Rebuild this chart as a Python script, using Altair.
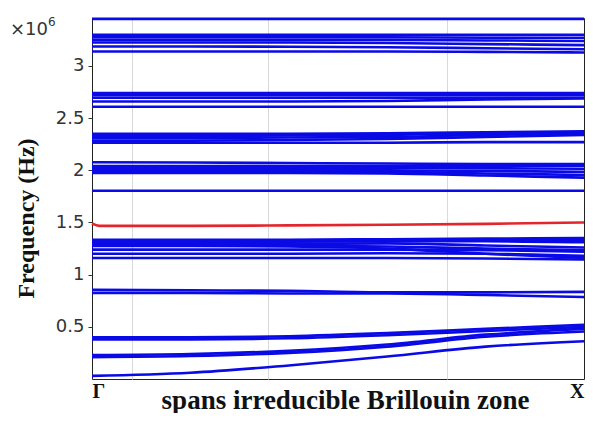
import altair as alt
import pandas as pd

# wave-vector sample positions (Gamma = 0, X = 1)
K = [0.0, 0.2, 0.4, 0.6, 0.8, 1.0]

# blue bands, frequency in units of 1e6 Hz, read at the K positions
band_vals = [
    [0.03, 0.06, 0.13, 0.215, 0.31, 0.362],
    [0.21, 0.22, 0.25, 0.31, 0.405, 0.455],
    [0.23, 0.24, 0.27, 0.33, 0.425, 0.48],
    [0.38, 0.38, 0.39, 0.42, 0.46, 0.50],
    [0.40, 0.40, 0.41, 0.44, 0.48, 0.52],
    [0.825, 0.825, 0.82, 0.82, 0.805, 0.785],
    [0.855, 0.85, 0.845, 0.83, 0.83, 0.835],
    [1.16, 1.16, 1.16, 1.16, 1.155, 1.145],
    [1.20, 1.20, 1.20, 1.205, 1.20, 1.18],
    [1.24, 1.24, 1.24, 1.24, 1.235, 1.22],
    [1.275, 1.275, 1.27, 1.25, 1.20, 1.16],
    [1.285, 1.285, 1.28, 1.27, 1.25, 1.235],
    [1.295, 1.295, 1.295, 1.30, 1.28, 1.26],
    [1.315, 1.315, 1.315, 1.32, 1.32, 1.31],
    [1.325, 1.325, 1.325, 1.33, 1.335, 1.33],
    [1.335, 1.335, 1.335, 1.34, 1.345, 1.35],
    [1.805, 1.805, 1.805, 1.805, 1.805, 1.805],
    [1.975, 1.975, 1.975, 1.97, 1.95, 1.93],
    [1.99, 1.99, 1.99, 1.985, 1.97, 1.955],
    [2.005, 2.005, 2.005, 2.0, 1.995, 1.985],
    [2.025, 2.025, 2.025, 2.025, 2.02, 2.015],
    [2.04, 2.04, 2.04, 2.04, 2.04, 2.045],
    [2.078, 2.075, 2.07, 2.065, 2.06, 2.06],
    [2.265, 2.265, 2.265, 2.265, 2.27, 2.27],
    [2.285, 2.285, 2.29, 2.30, 2.32, 2.34],
    [2.31, 2.31, 2.315, 2.32, 2.34, 2.355],
    [2.33, 2.33, 2.335, 2.34, 2.355, 2.365],
    [2.35, 2.35, 2.35, 2.355, 2.365, 2.375],
    [2.61, 2.61, 2.61, 2.61, 2.61, 2.61],
    [2.66, 2.66, 2.66, 2.665, 2.68, 2.69],
    [2.695, 2.695, 2.695, 2.695, 2.695, 2.695],
    [2.72, 2.72, 2.72, 2.72, 2.72, 2.72],
    [2.74, 2.74, 2.74, 2.74, 2.74, 2.74],
    [3.139, 3.139, 3.139, 3.139, 3.135, 3.13],
    [3.187, 3.187, 3.185, 3.18, 3.17, 3.16],
    [3.225, 3.225, 3.225, 3.22, 3.21, 3.20],
    [3.25, 3.25, 3.25, 3.25, 3.245, 3.24],
    [3.275, 3.275, 3.275, 3.275, 3.27, 3.27],
    [3.298, 3.298, 3.298, 3.298, 3.298, 3.30],
    [3.452, 3.452, 3.452, 3.452, 3.452, 3.452],
]
band_names = [f"b{i:02d}" for i in range(1, len(band_vals) + 1)]

# red (highlighted) band
red_k = [0.0, 0.015, 0.2, 0.4, 0.6, 0.8, 1.0]
red_f = [1.49, 1.468, 1.468, 1.472, 1.478, 1.487, 1.50]

grid_k = [0.081, 0.357, 0.722]
y_ticks = [0.5, 1, 1.5, 2, 2.5, 3]
x_end_labels = ["Γ", "X"]

rows = []
for name, vals in zip(band_names, band_vals):
    for k, f in zip(K, vals):
        rows.append({"band": name, "k": k, "f": f})
df_blue = pd.DataFrame(rows)
df_red = pd.DataFrame({"band": "red", "k": red_k, "f": red_f})

label_expr = (
    f"datum.value == 0 ? '{x_end_labels[0]}' : "
    f"(datum.value == 1 ? '{x_end_labels[1]}' : '')"
)

x_enc = alt.X(
    "k:Q",
    scale=alt.Scale(domain=[0, 1], nice=False, zero=False),
    axis=alt.Axis(
        values=[0] + grid_k + [1],
        labelExpr=label_expr,
        labelFlush=True,
        labelFont="Liberation Serif",
        labelFontWeight="bold",
        labelFontSize=20,
        labelColor="#111111",
        labelPadding=2,
        ticks=False,
        domain=False,
        grid=True,
        gridColor={
            "condition": {"test": "datum.value == 0 || datum.value == 1", "value": "transparent"},
            "value": "#d9d9d9",
        },
        gridWidth=1,
        title="spans irreducible Brillouin zone",
        titleFont="Liberation Serif",
        titleFontWeight="bold",
        titleFontSize=27,
        titleColor="#111111",
        titleX=253,
        titleY=29,
        titleAlign="center",
        titleBaseline="alphabetic",
    ),
)
y_enc = alt.Y(
    "f:Q",
    scale=alt.Scale(domain=[0, 3.46], nice=False, zero=False),
    axis=alt.Axis(
        values=y_ticks,
        format="~g",
        labelFont="DejaVu Sans",
        labelFontSize=18,
        labelColor="#333333",
        labelPadding=4,
        tickSize=4,
        tickColor="#333333",
        domain=False,
        grid=False,
        title="Frequency (Hz)",
        titleFont="Liberation Serif",
        titleFontWeight="bold",
        titleFontSize=24,
        titleColor="#111111",
        titleAngle=270,
        titleX=-66,
        titleY=200,
        titleAlign="center",
        titleBaseline="middle",
    ),
)

blue = alt.Chart(df_blue).mark_line(
    color="#0a0ae6", strokeWidth=2.6, interpolate="monotone"
).encode(x=x_enc, y=y_enc, detail="band:N")

red = alt.Chart(df_red).mark_line(
    color="#e3262d", strokeWidth=2.6, interpolate="monotone"
).encode(x="k:Q", y="f:Q", detail="band:N")

exp_df = pd.DataFrame({"t": ["×10"]})
exp_main = alt.Chart(exp_df).mark_text(
    font="DejaVu Sans", fontSize=18, color="#333333", align="left", baseline="middle"
).encode(x=alt.value(-82), y=alt.value(12), text="t:N")
sup_df = pd.DataFrame({"t": ["6"]})
exp_sup = alt.Chart(sup_df).mark_text(
    font="DejaVu Sans", fontSize=12, color="#333333", align="left", baseline="middle"
).encode(x=alt.value(-44), y=alt.value(4), text="t:N")

chart = (
    alt.layer(blue, red, exp_main, exp_sup)
    .properties(
        width=492,
        height=361,
        autosize=alt.AutoSizeParams(type="none"),
        padding={"left": 84, "top": 10, "right": 1, "bottom": 34},
        background="white",
    )
    .configure_view(stroke="#222222", strokeWidth=1)
)

chart.save("out.html", embed_options={"renderer": "svg", "actions": False})
